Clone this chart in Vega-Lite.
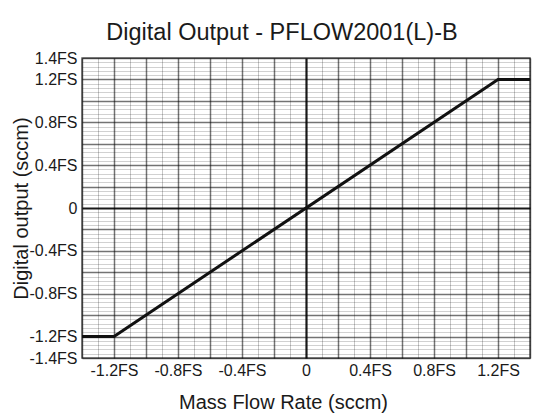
{
  "$schema": "https://vega.github.io/schema/vega-lite/v6.json",
  "width": 448,
  "height": 300,
  "autosize": {"type": "none"},
  "padding": {"left": 82, "top": 58, "right": 23, "bottom": 59},
  "background": "white",
  "title": {
    "text": "Digital Output - PFLOW2001(L)-B",
    "fontSize": 23.5,
    "font": "Liberation Sans",
    "fontWeight": "normal",
    "color": "#1a1a1a",
    "anchor": "middle",
    "dx": -24,
    "offset": 6
  },
  "data": {
    "values": [
      {"flow": -1.4, "output": -1.2},
      {"flow": -1.2, "output": -1.2},
      {"flow": 1.2, "output": 1.2},
      {"flow": 1.4, "output": 1.2}
    ]
  },
  "mark": {"type": "line", "color": "#111111", "strokeWidth": 3, "clip": true},
  "encoding": {
    "x": {
      "field": "flow",
      "type": "quantitative",
      "scale": {"domain": [-1.4, 1.4], "nice": false, "zero": false},
      "axis": {
        "title": "Mass Flow Rate (sccm)",
        "titleFont": "Liberation Sans",
        "titleFontSize": 20,
        "titleFontWeight": "normal",
        "titleColor": "#1a1a1a",
        "titleX": 201,
        "titleY": 50,
        "titleBaseline": "alphabetic",
        "values": [-1.4, -1.3, -1.2, -1.1, -1.0, -0.9, -0.8, -0.7, -0.6, -0.5, -0.4, -0.3, -0.2, -0.1, 0, 0.1, 0.2, 0.3, 0.4, 0.5, 0.6, 0.7, 0.8, 0.9, 1.0, 1.1, 1.2, 1.3, 1.4],
        "labelExpr": "abs(round(datum.value*10)) % 4 == 0 && abs(round(datum.value*10)) <= 12 ? (round(datum.value*10) == 0 ? '0' : (datum.value < 0 ? '-' : '') + format(abs(datum.value), '.1f') + 'FS') : ''",
        "labelFont": "Liberation Sans Narrow, Liberation Sans",
        "labelFontSize": 16,
        "labelColor": "#1a1a1a",
        "labelOverlap": false,
        "labelFlush": false,
        "labelBound": false,
        "labelPadding": 4,
        "ticks": false,
        "tickSize": 0,
        "domain": false,
        "grid": true,
        "gridColor": "#000000",
        "gridOpacity": {
          "condition": [
            {"test": "round(datum.value*10) == 0", "value": 0.9},
            {"test": "round(datum.value*10) % 2 == 0", "value": 0.55}
          ],
          "value": 0.22
        },
        "gridWidth": {
          "condition": [
            {"test": "round(datum.value*10) == 0", "value": 2.2},
            {"test": "round(datum.value*10) % 2 == 0", "value": 1.5}
          ],
          "value": 1
        }
      }
    },
    "y": {
      "field": "output",
      "type": "quantitative",
      "scale": {"domain": [-1.4, 1.4], "nice": false, "zero": false},
      "axis": {
        "title": "Digital output (sccm)",
        "titleFont": "Liberation Sans",
        "titleFontSize": 20,
        "titleFontWeight": "normal",
        "titleColor": "#1a1a1a",
        "titleX": -55,
        "titleBaseline": "alphabetic",
        "values": [-1.4, -1.36, -1.32, -1.28, -1.24, -1.2, -1.16, -1.12, -1.08, -1.04, -1.0, -0.96, -0.92, -0.88, -0.84, -0.8, -0.76, -0.72, -0.68, -0.64, -0.6, -0.56, -0.52, -0.48, -0.44, -0.4, -0.36, -0.32, -0.28, -0.24, -0.2, -0.16, -0.12, -0.08, -0.04, 0, 0.04, 0.08, 0.12, 0.16, 0.2, 0.24, 0.28, 0.32, 0.36, 0.4, 0.44, 0.48, 0.52, 0.56, 0.6, 0.64, 0.68, 0.72, 0.76, 0.8, 0.84, 0.88, 0.92, 0.96, 1.0, 1.04, 1.08, 1.12, 1.16, 1.2, 1.24, 1.28, 1.32, 1.36, 1.4],
        "labelExpr": "(abs(round(datum.value*100)) == 140 || (abs(round(datum.value*100)) % 40 == 0 && abs(round(datum.value*100)) <= 120)) ? (round(datum.value*100) == 0 ? '0' : (datum.value < 0 ? '-' : '') + format(abs(datum.value), '.1f') + 'FS') : ''",
        "labelFont": "Liberation Sans Narrow, Liberation Sans",
        "labelFontSize": 16,
        "labelColor": "#1a1a1a",
        "labelOverlap": false,
        "labelFlush": false,
        "labelBound": false,
        "labelPadding": 5,
        "ticks": false,
        "tickSize": 0,
        "domain": false,
        "grid": true,
        "gridColor": "#000000",
        "gridOpacity": {
          "condition": [
            {"test": "round(datum.value*100) == 0", "value": 0.9},
            {"test": "round(datum.value*100) % 20 == 0", "value": 0.55}
          ],
          "value": 0.18
        },
        "gridWidth": {
          "condition": [
            {"test": "round(datum.value*100) == 0", "value": 2.2},
            {"test": "round(datum.value*100) % 20 == 0", "value": 1.5}
          ],
          "value": 1
        }
      }
    }
  },
  "config": {
    "view": {"stroke": "#666666", "strokeWidth": 1.5}
  }
}
